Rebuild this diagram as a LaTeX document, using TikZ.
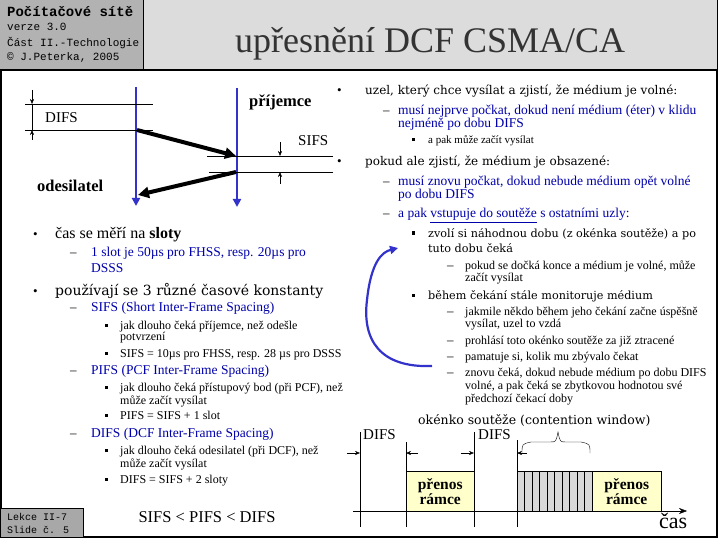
\documentclass[tikz,border=0pt]{standalone}
\usepackage{fontspec}
\setmainfont{Liberation Serif}
\newfontfamily\hdrmono{Liberation Mono}
\newfontfamily\widefont{DejaVu Serif}
\usetikzlibrary{arrows.meta,positioning,calc}

\definecolor{hdrgray}{RGB}{178,178,178}
\definecolor{titlegray}{RGB}{220,220,220}
\definecolor{footgray}{RGB}{168,168,168}
\definecolor{txtblue}{RGB}{0,0,170}
\definecolor{lineblue}{RGB}{51,51,204}
\definecolor{framefill}{RGB}{255,255,204}
\definecolor{slotfill}{RGB}{216,216,216}
\definecolor{titletxt}{RGB}{51,51,51}

\begin{document}
\begin{tikzpicture}[
            x=1pt, y=-1pt,
            txt/.style={
                inner sep=0pt,
                anchor=base west
            },
            hdrbig/.style={txt, font=\hdrmono\bfseries\fontsize{14}{14}\selectfont},
            hdrsmall/.style={txt, font=\hdrmono\fontsize{11}{11}\selectfont},
            slidetitle/.style={txt, text=titletxt, font=\fontsize{36}{36}\selectfont},
            lvone/.style={txt, font=\widefont\fontsize{12}{12}\selectfont},
            lvonel/.style={txt, font=\widefont\fontsize{14}{14}\selectfont},
            lvtwo/.style={txt, text=txtblue, font=\fontsize{13.5}{13.5}\selectfont},
            lvthree/.style={txt, font=\fontsize{12}{12}\selectfont},
            lvthreew/.style={txt, font=\widefont\fontsize{11.2}{11.2}\selectfont},
            dotbul/.style={txt, font=\fontsize{13}{13}\selectfont},
            dashbul/.style={txt, font=\fontsize{13}{13}\selectfont},
            sqbul/.style={fill=black, inner sep=0pt, minimum size=3pt},
            lbltext/.style={inner sep=0pt, font=\fontsize{15}{15}\selectfont},
            lblbold/.style={inner sep=0pt, font=\bfseries\fontsize{16.5}{16.5}\selectfont},
            station/.style={
                lineblue,
                line width=2.5pt,
                -{Triangle[length=8pt,width=8pt]}
            },
            frameflow/.style={
                line width=4pt,
                -{Triangle[length=11pt,width=11pt]}
            },
            dimarrow/.style={thin, -{Stealth[length=5pt,width=4pt]}},
            framebox/.style={
                draw,
                thin,
                fill=framefill,
                minimum width=68pt,
                minimum height=40pt,
                inner sep=0pt,
                align=center,
                font=\bfseries\fontsize{15.5}{15}\selectfont
            },
            slotbox/.style={draw, thin, fill=slotfill}
        ]

            \useasboundingbox (0,0) rectangle (720,540);
            \fill[white] (0,0) rectangle (720,540);

            % --- Header ---
            \fill[hdrgray] (0,0) rectangle (143,70);
            \fill[titlegray] (143,0) rectangle (717,70);
            \draw[thick] (143,0) -- (143,70);
            \draw[thick] (717,0) -- (717,70);
            \node[hdrbig] (course) at (7,17) {Počítačové sítě};
            \node[hdrsmall] (version) at (7,31) {verze 3.0};
            \node[hdrsmall] (part) at (7,47) {Část II.-Technologie};
            \node[hdrsmall] (author) at (7,61) {© J.Peterka, 2005};
            \node[slidetitle] (title) at (235,53) {upřesnění DCF CSMA/CA};

            % --- Slide frame and footer ---
            \draw[line width=1.5pt] (1,70) rectangle (717,537);
            \draw[thick, fill=footgray] (0,508) rectangle (83,537);
            \node[txt, font=\hdrmono\fontsize{10}{10}\selectfont] (lesson) at (7,520) {Lekce II-7};
            \node[txt, font=\hdrmono\fontsize{10}{10}\selectfont] (slide) at (7,533) {Slide č. 5};
            \node[font=\fontsize{16.5}{16.5}\selectfont, inner sep=0pt] (order) at (207,517) {SIFS < PIFS < DIFS};

            % --- Sender / receiver exchange ---
            \coordinate (sndTop) at (136,87);
            \coordinate (sndBot) at (136,206);
            \coordinate (rcvTop) at (237,88);
            \coordinate (rcvBot) at (237,207);
            \draw[station] (sndTop) -- (sndBot);
            \draw[station] (rcvTop) -- (rcvBot);

            % DIFS marks
            \coordinate (difsA) at (25,104);
            \coordinate (difsB) at (25,130);
            \draw (difsA) -- ++(128,0);
            \draw (difsB) -- ++(128,0);
            \draw[dimarrow] (32,90) -- (32,104);
            \draw (32,104) -- (32,130);
            \draw[dimarrow] (32,140) -- (32,130);
            \node[lbltext, anchor=west] (difsLbl) at (45,118) {DIFS};

            % SIFS marks
            \coordinate (sifsA) at (207,156);
            \coordinate (sifsB) at (209,172);
            \draw (sifsA) -- (333,156);
            \draw (sifsB) -- (333,172);
            \draw[dimarrow] (280,142) -- (280,156);
            \draw[dimarrow] (280,184) -- (280,172);
            \node[lbltext, anchor=west] (sifsLbl) at (298,141) {SIFS};

            \node[lblbold, anchor=west] (rcvLbl) at (249,102) {příjemce};
            \node[lblbold, anchor=west] (sndLbl) at (37,186) {odesilatel};

            % data and ack
            \coordinate (dataS) at (137,130);
            \coordinate (dataE) at (236,156);
            \coordinate (ackS) at (236,172);
            \coordinate (ackE) at (138,195);
            \draw[frameflow] (dataS) -- (dataE);
            \draw[frameflow] (ackS) -- (ackE);

            % --- Left column bullets ---
            \node[dotbul] (lb1) at (33,238) {•};
            \node[txt, font=\fontsize{16}{16}\selectfont] (l1) at (55,238) {čas se měří na \textbf{sloty}};
            \node[dashbul] (ld1) at (70,256) {–};
            \node[lvtwo] (l2) at (91,256) {1 slot je 50µs pro FHSS, resp. 20µs pro};
            \node[lvtwo] (l3) at (91,272) {DSSS};
            \node[dotbul] (lb2) at (33,295) {•};
            \node[lvonel] (l4) at (55,295) {používají se 3 různé časové konstanty};

            \node[dashbul] (ld2) at (70,311) {–};
            \node[lvtwo] (l5) at (91,311) {SIFS (Short Inter-Frame Spacing)};
            \node[sqbul] (ls1) at (106,325) {};
            \node[lvthree] (l6) at (120,329) {jak dlouho čeká příjemce, než odešle};
            \node[lvthree] (l7) at (120,340) {potvrzení};
            \node[sqbul] (ls2) at (106,353) {};
            \node[lvthree] (l8) at (120,357) {SIFS = 10µs pro FHSS, resp. 28 µs pro DSSS};

            \node[dashbul] (ld3) at (70,374) {–};
            \node[lvtwo] (l9) at (91,374) {PIFS (PCF Inter-Frame Spacing)};
            \node[sqbul] (ls3) at (106,387) {};
            \node[lvthree] (l10) at (120,391) {jak dlouho čeká přístupový bod (při PCF), než};
            \node[lvthree] (l11) at (120,404) {může začít vysílat};
            \node[sqbul] (ls4) at (106,415) {};
            \node[lvthree] (l12) at (120,419) {PIFS = SIFS + 1 slot};

            \node[dashbul] (ld4) at (70,437) {–};
            \node[lvtwo] (l13) at (91,437) {DIFS (DCF Inter-Frame Spacing)};
            \node[sqbul] (ls5) at (106,450) {};
            \node[lvthree] (l14) at (120,454) {jak dlouho čeká odesilatel (při DCF), než};
            \node[lvthree] (l15) at (120,467) {může začít vysílat};
            \node[sqbul] (ls6) at (106,479) {};
            \node[lvthree] (l16) at (120,483) {DIFS = SIFS + 2 sloty};

            % --- Right column bullets ---
            \node[dotbul] (rb1) at (337,95) {•};
            \node[lvone] (r1) at (365,95) {uzel, který chce vysílat a zjistí, že médium je volné:};
            \node[dashbul] (rd1) at (383,115) {–};
            \node[lvtwo] (r2) at (398,115) {musí nejprve počkat, dokud není médium (éter) v klidu};
            \node[lvtwo] (r3) at (398,128) {nejméně po dobu DIFS};
            \node[sqbul] (rs1) at (413,140) {};
            \node[txt, font=\fontsize{11}{11}\selectfont] (r4) at (428,144) {a pak může začít vysílat};

            \node[dotbul] (rb2) at (337,166) {•};
            \node[lvone] (r5) at (365,166) {pokud ale zjistí, že médium je obsazené:};
            \node[dashbul] (rd2) at (383,186) {–};
            \node[lvtwo] (r6) at (398,186) {musí znovu počkat, dokud nebude médium opět volné};
            \node[lvtwo] (r7) at (398,199) {po dobu DIFS};
            \node[dashbul] (rd3) at (383,218) {–};
            \node[lvtwo] (r8) at (398,218) {a pak \underline{vstupuje do soutěže} s ostatními uzly:};

            \node[sqbul] (rs2) at (413,233) {};
            \node[lvthreew] (r9) at (428,237) {zvolí si náhodnou dobu (z okénka soutěže) a po};
            \node[lvthreew] (r10) at (428,252) {tuto dobu čeká};
            \node[dashbul] (rd4) at (447,269) {–};
            \node[lvthree] (r11) at (465,269) {pokud se dočká konce a médium je volné, může};
            \node[lvthree] (r12) at (465,281) {začít vysílat};

            \node[sqbul] (rs3) at (413,295) {};
            \node[lvthreew] (r13) at (428,299) {během čekání stále monitoruje médium};
            \node[dashbul] (rd5) at (447,315) {–};
            \node[lvthree] (r14) at (465,315) {jakmile někdo během jeho čekání začne úspěšně};
            \node[lvthree] (r15) at (465,327) {vysílat, uzel to vzdá};
            \node[dashbul] (rd6) at (447,344) {–};
            \node[lvthree] (r16) at (465,344) {prohlásí toto okénko soutěže za již ztracené};
            \node[dashbul] (rd7) at (447,360) {–};
            \node[lvthree] (r17) at (465,360) {pamatuje si, kolik mu zbývalo čekat};
            \node[dashbul] (rd8) at (447,376) {–};
            \node[lvthree] (r18) at (465,376) {znovu čeká, dokud nebude médium po dobu DIFS};
            \node[lvthree] (r19) at (465,389) {volné, a pak čeká se zbytkovou hodnotou své};
            \node[lvthree] (r20) at (465,402) {předchozí čekací doby};

            % loop back arrow
            \coordinate (loopS) at (432,366);
            \coordinate (loopM) at (367,300);
            \coordinate (loopE) at (398,248);
            \draw[lineblue, line width=2.2pt, -{Triangle[length=8pt,width=8pt]}]
            (loopS) .. controls (380,368) and (362,340) .. (loopM)
            .. controls (371,262) and (382,252) .. (loopE);

            % --- Timing diagram ---
            \node[txt, font=\widefont\fontsize{12.5}{12.5}\selectfont] (cwLbl) at (418,424) {okénko soutěže (contention window)};
            \node[lbltext, anchor=west] (difsT1) at (363,435) {DIFS};
            \node[lbltext, anchor=west] (difsT2) at (478,435) {DIFS};

            \draw (360,432) -- (360,527);
            \draw (406,442) -- (406,527);
            \draw (474,432) -- (474,527);
            \draw (517,440) -- (517,527);

            \draw[dimarrow] (347,453) -- (360,453);
            \draw[dimarrow] (418,453) -- (406,453);
            \draw[dimarrow] (461,453) -- (474,453);
            \draw[dimarrow] (527,453) -- (517,453);

            % contention window brace
            \draw (522,453) .. controls (522,444) .. (531,442) -- (550,442)
            .. controls (556,442) .. (558,432) .. controls (560,442) .. (566,442)
            -- (581,442) .. controls (590,444) .. (590,453);

            % frames and back-off slots
            \node[framebox, anchor=north west] (frameA) at (406,471) {přenos\\rámce};
            \foreach \s in {0,...,9} {
                \draw[slotbox] (517+\s*7.5,471) rectangle ++(7.5,40);
            }
            \node[framebox, minimum width=69pt, anchor=north west] (frameB) at (592,471) {přenos\\rámce};

            % time axis
            \coordinate (axS) at (353,511);
            \coordinate (axE) at (687,511);
            \draw[-{Stealth[length=8pt,width=6pt]}] (axS) -- (axE);
            \node[inner sep=0pt, anchor=west, font=\fontsize{22}{22}\selectfont] (timeLbl) at (659,521) {čas};

        \end{tikzpicture}
\end{document}
